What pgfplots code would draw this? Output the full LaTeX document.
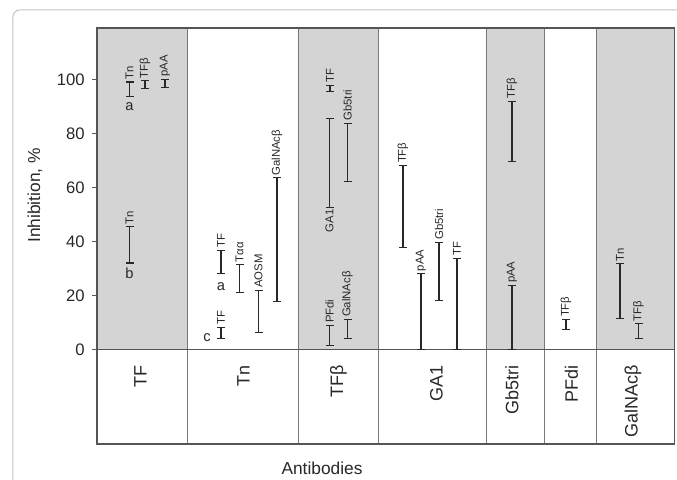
\documentclass[border=0pt]{standalone}
\usepackage{fontspec}
\setmainfont{Liberation Sans}
\usepackage{pgfplots}
\pgfplotsset{compat=1.18}
\definecolor{bandgray}{RGB}{212,212,212}
\definecolor{framegray}{RGB}{195,195,195}
\definecolor{boxgray}{RGB}{85,85,85}
\definecolor{sepgray}{RGB}{120,120,120}
\definecolor{ink}{RGB}{40,40,40}
\pgfplotsset{
  rng/.style={ink, line width=0.8pt, mark=-, mark size=3pt, mark options={solid, line width=0.8pt}, forget plot},
}
\tikzset{
  lab/.style={rotate=90, anchor=west, inner sep=1.5pt, text=ink, font=\fontsize{8.5}{9}\selectfont},
  cat/.style={rotate=90, anchor=east, inner sep=0pt, text=ink, font=\fontsize{13.5}{15}\selectfont},
  let/.style={text=ink, font=\fontsize{11}{12}\selectfont},
}
\newcommand{\rng}[4]{\addplot[rng] coordinates {(#1,#2) (#1,#3)} node[pos=1, lab] {#4};}
\begin{document}
\begin{tikzpicture}[x=1pt,y=1pt]
\useasboundingbox (-72.75,-26.25) rectangle (435,333);
\draw[framegray, line width=0.75pt, rounded corners=5pt] (-63,-40) -- (-63,325.5) -- (450,325.5);
\begin{axis}[
  at={(0,0)}, anchor=south west,
  scale only axis, width=433.125pt, height=312pt,
  xmin=97, xmax=674.5, ymin=-35, ymax=119,
  axis line style={boxgray, line width=1.1pt},
  axis on top,
  xtick=\empty, ytick={0,20,...,100},
  tick pos=left, tick align=outside, major tick length=3.75pt,
  ytick style={boxgray, line width=0.8pt},
  /pgf/number format/assume math mode=true,
  yticklabel style={font=\fontsize{12.5}{14}\selectfont, text=ink, xshift=-2pt},
  clip=false,
]
% shaded columns
\addplot[fill=bandgray, draw=none, forget plot] coordinates {(97,0) (97,119) (187,119) (187,0)} -- cycle;
\addplot[fill=bandgray, draw=none, forget plot] coordinates {(298,0) (298,119) (378,119) (378,0)} -- cycle;
\addplot[fill=bandgray, draw=none, forget plot] coordinates {(486,0) (486,119) (544,119) (544,0)} -- cycle;
\addplot[fill=bandgray, draw=none, forget plot] coordinates {(596,0) (596,119) (674.5,119) (674.5,0)} -- cycle;
% separators
\addplot[sepgray, line width=0.75pt, forget plot] coordinates {(187,-35) (187,119)};
\addplot[sepgray, line width=0.75pt, forget plot] coordinates {(298,-35) (298,119)};
\addplot[sepgray, line width=0.75pt, forget plot] coordinates {(378,-35) (378,119)};
\addplot[sepgray, line width=0.75pt, forget plot] coordinates {(486,-35) (486,119)};
\addplot[sepgray, line width=0.75pt, forget plot] coordinates {(544,-35) (544,119)};
\addplot[sepgray, line width=0.75pt, forget plot] coordinates {(596,-35) (596,119)};
\addplot[boxgray, line width=1.1pt, forget plot] coordinates {(97,0) (674.5,0)};
% TF column
\rng{129.5}{93.5}{99}{Tn}
\rng{145}{96.5}{99.5}{TFβ}
\rng{165}{97}{100}{pAA}
\rng{129.5}{32}{45.5}{Tn}
% Tn column
\rng{221}{4}{8.3}{TF}
\rng{221}{28}{36.7}{TF}
\rng{239.5}{21.2}{31.4}{Tαα}
\rng{258.5}{6.2}{21.9}{AOSM}
\rng{277}{17.8}{63.5}{GalNAcβ}
% TFbeta column
\addplot[rng] coordinates {(329.5,52.7) (329.5,85.4)} node[pos=0, lab, anchor=east] {GA1};
\rng{347.5}{62.2}{83.8}{Gb5tri}
\rng{330}{95.6}{97.8}{TF}
\rng{329.5}{1.5}{8.9}{PFdi}
\rng{347.5}{4}{11.1}{GalNAcβ}
% GA1 column
\rng{403}{37.9}{68.1}{TFβ}
\rng{421}{0}{28}{pAA}
\rng{439}{18.1}{39.7}{Gb5tri}
\rng{457}{0}{33.8}{TF}
% Gb5tri column
\rng{512}{69.6}{91.9}{TFβ}
\rng{512}{0}{23.7}{pAA}
% PFdi column
\rng{566}{7.4}{11.1}{TFβ}
% GalNAcbeta column
\rng{620}{11.6}{31.7}{Tn}
\rng{638.5}{4}{9.5}{TFβ}
% letters
\node[let] at (axis cs:129.5,89.9) {a};
\node[let] at (axis cs:129.5,28.3) {b};
\node[let] at (axis cs:207,4.4) {c};
\node[let] at (axis cs:221,23.2) {a};
% category labels
\node[cat] at (axis cs:140.5,-5.8) {TF};
\node[cat] at (axis cs:243.5,-5.8) {Tn};
\node[cat] at (axis cs:338.5,-5.8) {TFβ};
\node[cat] at (axis cs:436.5,-5.8) {GA1};
\node[cat] at (axis cs:512,-5.8) {Gb5tri};
\node[cat] at (axis cs:571.5,-5.8) {PFdi};
\node[cat] at (axis cs:633,-5.8) {GalNAcβ};
\node[rotate=90, text=ink, font=\fontsize{13}{15}\selectfont] at (axis cs:35,57) {Inhibition, \%};
\node[text=ink, font=\fontsize{13}{15}\selectfont] at (axis cs:322,-44) {Antibodies};
\end{axis}
\end{tikzpicture}
\end{document}
